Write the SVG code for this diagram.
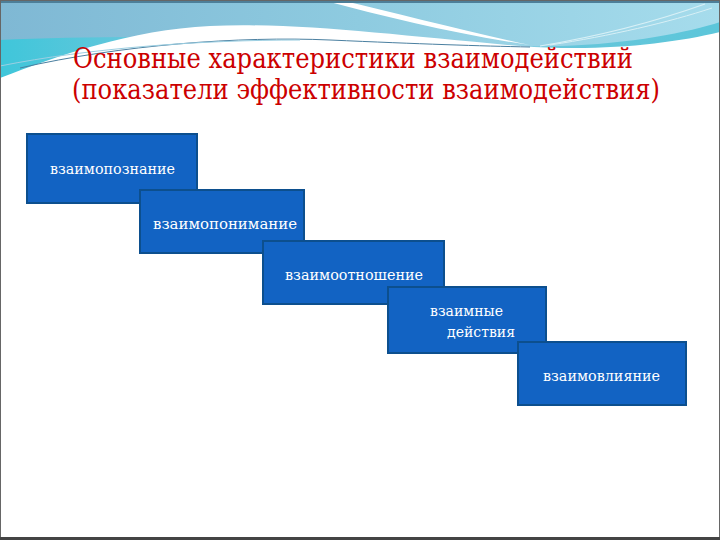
<svg xmlns="http://www.w3.org/2000/svg" width="720" height="540" viewBox="0 0 720 540">
<defs>
<linearGradient id="sky" x1="0" y1="0" x2="1" y2="0">
<stop offset="0" stop-color="#7fb8d4"/>
<stop offset="0.5" stop-color="#8ecbe0"/>
<stop offset="1" stop-color="#a6dcec"/>
</linearGradient>
<linearGradient id="teal" x1="0" y1="0" x2="1" y2="0">
<stop offset="0" stop-color="#3fc6da"/>
<stop offset="0.3" stop-color="#7cc7dc"/>
<stop offset="1" stop-color="#5cc6da"/>
</linearGradient>
<style>
.box{fill:#1263c3;stroke:#0c4f8e;stroke-width:2}
.lbl{font-size:14px;fill:#ffffff}
.title{font-size:27px;fill:#cc0000}
</style>
</defs>
<rect x="0" y="0" width="720" height="540" fill="#ffffff"/>
<g id="header">
<rect x="0" y="0" width="720" height="90" fill="url(#sky)"/>
<path d="M0,40 C80,36 200,36 320,40 C420,44 500,48 560,46 C630,44 690,32 720,22 V60 C680,52 620,48 560,49 C470,50 380,44 300,45 C180,47 80,70 0,82 Z" fill="url(#teal)"/>
<path d="M0,78 C60,55 130,30 210,26 C300,22 400,36 520,46 C600,52 670,44 720,32 V130 H0 Z" fill="#ffffff"/>
<path d="M20,68 C120,45 240,36 330,40 C420,44 480,46 530,47" fill="none" stroke="#4a7fa0" stroke-width="1"/>
<path d="M0,66 C90,48 200,40 300,40" fill="none" stroke="#9ccfe2" stroke-width="1"/>
<path d="M322,0 L340,0 C400,14 460,30 530,45 C455,34 390,18 322,0 Z" fill="#ffffff"/>
<path d="M540,46 C600,36 660,20 705,4" fill="none" stroke="#d8f0f6" stroke-width="1.2"/>
<path d="M550,45 C610,36 670,22 712,8" fill="none" stroke="#d8f0f6" stroke-width="1"/>
<rect x="0" y="0" width="720" height="3" fill="#4d7f99"/>
</g>
<g id="title" font-family="'DejaVu Serif', 'Liberation Serif', serif">
<text class="title" x="73" y="68" textLength="560" lengthAdjust="spacingAndGlyphs">Основные характеристики взаимодействий</text>
<text class="title" x="72" y="99" textLength="588" lengthAdjust="spacingAndGlyphs">(показатели эффективности взаимодействия)</text>
</g>
<g font-family="'DejaVu Serif', 'Liberation Serif', serif">
<g id="node1">
<rect class="box" x="27" y="134" width="170" height="69"/>
<text class="lbl" x="50" y="174" textLength="125" lengthAdjust="spacingAndGlyphs">взаимопознание</text>
</g>
<g id="node2">
<rect class="box" x="140" y="190" width="164" height="63"/>
<text class="lbl" x="153" y="229" textLength="144" lengthAdjust="spacingAndGlyphs">взаимопонимание</text>
</g>
<g id="node3">
<rect class="box" x="263" y="241" width="181" height="63"/>
<text class="lbl" x="285" y="280" textLength="138" lengthAdjust="spacingAndGlyphs">взаимоотношение</text>
</g>
<g id="node4">
<rect class="box" x="388" y="287" width="158" height="66"/>
<text class="lbl" x="430" y="316" textLength="73" lengthAdjust="spacingAndGlyphs">взаимные</text>
<text class="lbl" x="447" y="337" textLength="68" lengthAdjust="spacingAndGlyphs">действия</text>
</g>
<g id="node5">
<rect class="box" x="518" y="342" width="168" height="63"/>
<text class="lbl" x="543" y="381" textLength="117" lengthAdjust="spacingAndGlyphs">взаимовлияние</text>
</g>
</g>
<g id="connectors"></g>
<rect x="0.5" y="0.5" width="719" height="538" fill="none" stroke="#666666" stroke-width="1"/>
<rect x="0" y="537" width="720" height="3" fill="#444444"/>
</svg>
